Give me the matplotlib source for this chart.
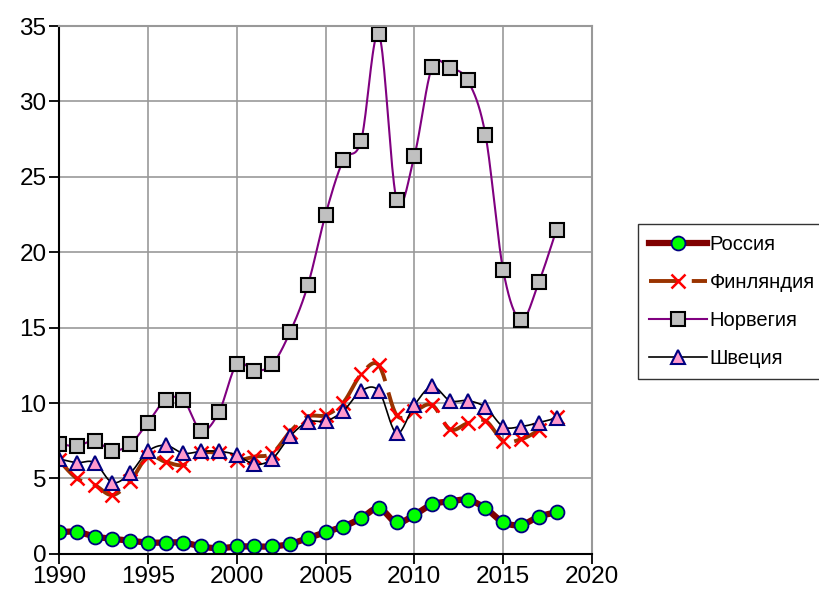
import matplotlib.pyplot as plt
import numpy as np

plt.rcParams['font.family'] = ['Liberation Sans', 'DejaVu Sans']

years = np.arange(1990, 2019)

russia = [1.44, 1.46, 1.15, 1.0, 0.88, 0.75, 0.75, 0.75, 0.49, 0.37,
          0.49, 0.49, 0.49, 0.66, 1.04, 1.44, 1.81, 2.36, 3.03, 2.08,
          2.58, 3.29, 3.47, 3.58, 3.03, 2.1, 1.92, 2.47, 2.76]
finland = [6.2, 5.0, 4.57, 3.9, 4.8, 6.45, 6.1, 5.9, 6.67, 6.67,
           6.23, 6.45, 6.67, 8.1, 9.1, 9.2, 10.03, 11.9, 12.5, 9.2,
           9.48, 9.87, 8.26, 8.66, 8.83, 7.49, 7.6, 8.2, 9.1]
norway = [7.3, 7.15, 7.5, 6.85, 7.27, 8.7, 10.2, 10.2, 8.17, 9.4,
          12.57, 12.15, 12.57, 14.7, 17.8, 22.5, 26.1, 27.4, 34.46, 23.5,
          26.4, 32.3, 32.2, 31.4, 27.8, 18.8, 15.5, 18.0, 21.5]
sweden = [6.3, 6.05, 6.05, 4.73, 5.35, 6.8, 7.2, 6.67, 6.8, 6.8,
          6.56, 5.94, 6.3, 7.8, 8.75, 8.8, 9.48, 10.8, 10.8, 8.0,
          9.87, 11.1, 10.16, 10.16, 9.72, 8.44, 8.44, 8.7, 9.0]

names = ['Россия', 'Финляндия', 'Норвегия', 'Швеция']


def smooth(x, y, n=20):
    # catmull-rom style smoothing like excel's "smoothed line"
    x = np.asarray(x, float)
    y = np.asarray(y, float)
    px = np.concatenate([[x[0]], x, [x[-1]]])
    py = np.concatenate([[y[0]], y, [y[-1]]])
    xs, ys = [], []
    t = np.linspace(0, 1, n, endpoint=False)
    for i in range(1, len(px) - 2):
        p0 = np.array([px[i], py[i]])
        p3 = np.array([px[i + 1], py[i + 1]])
        p1 = p0 + (p3 - np.array([px[i - 1], py[i - 1]])) / 6
        p2 = p3 - (np.array([px[i + 2], py[i + 2]]) - p0) / 6
        b = (((1 - t) ** 3)[:, None] * p0 + (3 * (1 - t) ** 2 * t)[:, None] * p1
             + (3 * (1 - t) * t ** 2)[:, None] * p2 + (t ** 3)[:, None] * p3)
        xs.extend(b[:, 0])
        ys.extend(b[:, 1])
    xs.append(x[-1])
    ys.append(y[-1])
    return np.array(xs), np.array(ys)


fig = plt.figure(figsize=(8.2, 5.93), dpi=100)
ax = fig.add_axes([0.072, 0.066, 0.65, 0.89])

styles = [
    dict(color='#800000', lw=4.5, ls='-', marker='o', ms=10, mfc='#00FF00', mec='#000080', mew=1.3),
    dict(color='#993300', lw=2.8, ls=(0, (8, 3)), marker='x', ms=10, mfc='#FF0000', mec='#FF0000', mew=1.8),
    dict(color='#800080', lw=1.5, ls='-', marker='s', ms=10, mfc='#C0C0C0', mec='#000000', mew=1.5),
    dict(color='#000000', lw=1.2, ls='-', marker='^', ms=10, mfc='#FF99CC', mec='#000080', mew=1.5),
]

for data, name, st in zip([russia, finland, norway, sweden], names, styles):
    sx, sy = smooth(years, data)
    ax.plot(sx, sy, color=st['color'], lw=st['lw'], ls=st['ls'])
    ax.plot(years, data, ls='none', marker=st['marker'], ms=st['ms'],
            mfc=st['mfc'], mec=st['mec'], mew=st['mew'])
    ax.plot([], [], color=st['color'], lw=st['lw'], ls=st['ls'], marker=st['marker'],
            ms=st['ms'], mfc=st['mfc'], mec=st['mec'], mew=st['mew'], label=name)

ax.set_xlim(1990, 2020)
ax.set_ylim(0, 35)
ax.set_xticks(range(1990, 2021, 5))
ax.set_yticks(range(0, 36, 5))
ax.grid(True, color='#999999', lw=1.2)
ax.set_axisbelow(True)
for s in ['top', 'right']:
    ax.spines[s].set_color('#999999')
    ax.spines[s].set_linewidth(1.5)
for s in ['left', 'bottom']:
    ax.spines[s].set_color('black')
    ax.spines[s].set_linewidth(1.5)
ax.tick_params(direction='out', length=7, width=1.3, labelsize=17.5, pad=2)

fig.legend(loc='upper left', bbox_to_anchor=(0.778, 0.623), fontsize=14.5,
           frameon=True, fancybox=False, edgecolor='black', handlelength=2.9,
           borderpad=0.55, labelspacing=0.95, handletextpad=0.1, borderaxespad=0)

plt.savefig('out.png', dpi=100)
